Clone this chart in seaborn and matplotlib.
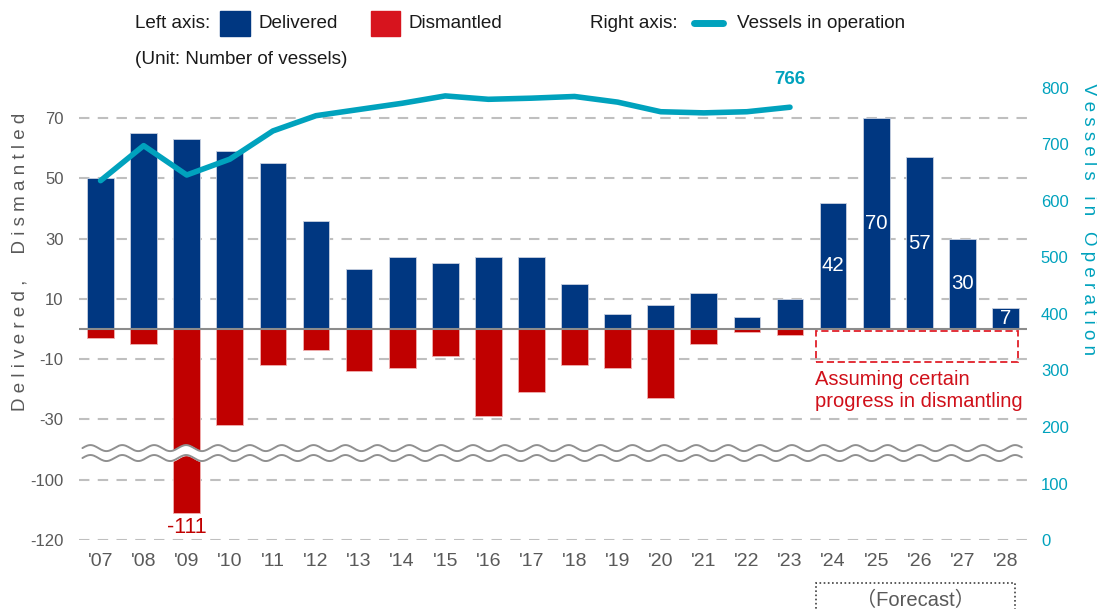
import numpy as np
import pandas as pd
import matplotlib
matplotlib.use("Agg")
import matplotlib.pyplot as plt
from matplotlib.patches import Rectangle
from matplotlib.lines import Line2D
import seaborn as sns

years = ["'07", "'08", "'09", "'10", "'11", "'12", "'13", "'14", "'15", "'16", "'17",
         "'18", "'19", "'20", "'21", "'22", "'23", "'24", "'25", "'26", "'27", "'28"]
delivered = [50, 65, 63, 59, 55, 36, 20, 24, 22, 24, 24, 15, 5, 8, 12, 4, 10, 42, 70, 57, 30, 7]
dismantled = [-3, -5, -111, -32, -12, -7, -14, -13, -9, -29, -21, -12, -13, -23, -5, -1, -2]
in_operation = [636, 698, 646, 674, 724, 751, 762, 773, 786, 780, 782, 785, 775, 758, 756, 758, 766]
forecast_labels = [42, 70, 57, 30, 7]
left_ticks = [70, 50, 30, 10, -10, -30, -100, -120]
right_ticks = [0, 100, 200, 300, 400, 500, 600, 700, 800]

BLUE = "#003781"
RED = "#C00000"
RED_LEG = "#D7141E"
TEAL = "#00A2BD"
GRAY = "#595959"
GRID = "#BFBFBF"
FONT = ["Liberation Sans", "Noto Sans CJK JP", "DejaVu Sans"]

# broken axis: values below the break are shifted up by 50
BREAK_SHIFT = 50


def to_disp(v):
    return v + BREAK_SHIFT if v < -45 else v


sns.set_theme(style="white")
plt.rcParams["font.family"] = FONT

W, H = 1097, 609
fig = plt.figure(figsize=(W / 100, H / 100), dpi=100)
ax = fig.add_axes([79 / W, 1 - 540 / H, (1027 - 79) / W, (540 - 88) / H])

df_del = pd.DataFrame({"year": years, "value": delivered})
df_dis = pd.DataFrame({"year": years[:len(dismantled)],
                       "value": [to_disp(v) for v in dismantled]})

sns.barplot(data=df_del, x="year", y="value", order=years, color=BLUE, width=0.62,
            saturation=1, edgecolor="#c8d0e0", linewidth=0.6, ax=ax, zorder=3)
sns.barplot(data=df_dis, x="year", y="value", order=years, color=RED, width=0.62,
            saturation=1, edgecolor="#f0b0b0", linewidth=0.6, ax=ax, zorder=3)

ax.set_xlim(-0.5, len(years) - 0.5)
ax.set_ylim(-70, 80)
ax.set_xlabel("")
ax.set_ylabel("")
ax.set_yticks([to_disp(t) for t in left_ticks])
ax.set_yticklabels([str(t) for t in left_ticks])
ax.tick_params(axis="y", length=0, pad=11, labelsize=12, labelcolor=GRAY)
ax.tick_params(axis="x", length=0, pad=9, labelsize=14, labelcolor=GRAY)
for s in ax.spines.values():
    s.set_visible(False)
for t in left_ticks:
    ax.axhline(to_disp(t), color=GRID, lw=1.5, ls=(0, (5, 4)), zorder=1)
ax.axhline(0, color="#8c8c8c", lw=1.5, zorder=4)

# bar value labels
n_hist = len(dismantled)
for i, v in enumerate(forecast_labels):
    ax.text(n_hist + i, v / 2, str(v), color="white", ha="center", va="center", fontsize=14.7, zorder=5)
i_min = int(np.argmin(dismantled))
ax.text(i_min, to_disp(dismantled[i_min]) - 1.5, str(dismantled[i_min]), color=RED,
        ha="center", va="top", fontsize=15.5, zorder=5)

# break marks
xs = np.linspace(-0.42, 21.38, 800)
wave = 1.0 * np.sin(2 * np.pi * (xs + 0.42) / 0.74)
y_top, y_bot = -39.5, -42.8
ax.fill_between(xs, y_top + wave, y_bot + wave, color="white", zorder=6)
ax.plot(xs, y_top + wave, color="#909090", lw=1.4, zorder=7)
ax.plot(xs, y_bot + wave, color="#909090", lw=1.4, zorder=7)

# dismantling assumption box
ax.add_patch(Rectangle((16.6, -11), 21.3 - 16.6, 10.4, fill=False, ec="#E0202A",
                       lw=1.3, ls=(0, (4, 2)), zorder=5))
ax.text(16.58, -13.5, "Assuming certain\nprogress in dismantling", color="#D0101A",
        ha="left", va="top", fontsize=14.5, linespacing=1.2, zorder=5)

# right axis: vessels in operation
ax2 = ax.twinx()
df_op = pd.DataFrame({"pos": np.arange(len(in_operation)), "value": in_operation})
sns.lineplot(data=df_op, x="pos", y="value", color=TEAL, lw=4, ax=ax2, zorder=8)
ax2.lines[0].set_solid_capstyle("round")
ax2.set_ylim(0, 800)
ax2.set_xlim(-0.5, len(years) - 0.5)
ax2.set_yticks(right_ticks)
ax2.set_ylabel("")
ax2.tick_params(axis="y", length=0, pad=10, labelsize=12, labelcolor=TEAL)
for s in ax2.spines.values():
    s.set_visible(False)
ax2.annotate(str(in_operation[-1]), (len(in_operation) - 1, in_operation[-1]),
             xytext=(0, 14), textcoords="offset points", ha="center", va="bottom",
             color=TEAL, fontsize=13.5, fontweight="bold", annotation_clip=False)

# axis titles (letter spaced)
fig.text(20 / W, 1 - 262 / H, " ".join("Delivered, Dismantled").replace(",  ", ",    "),
         rotation=90, ha="center", va="center", fontsize=13.5, color=GRAY)
fig.text(1088 / W, 1 - 219 / H, " ".join("Vessels in Operation"),
         rotation=-90, ha="center", va="center", fontsize=13.5, color=TEAL)


# legend
def px(x, y):
    return x / W, 1 - y / H


fig.text(*px(135, 23), "Left axis:", va="center", fontsize=13.6, color="#1a1a1a")
fig.add_artist(Rectangle(px(220, 36), 30 / W, 25 / H, transform=fig.transFigure, color=BLUE))
fig.text(*px(258, 23), "Delivered", va="center", fontsize=13.6, color="#1a1a1a")
fig.add_artist(Rectangle(px(371, 36), 29 / W, 25 / H, transform=fig.transFigure, color=RED_LEG))
fig.text(*px(409, 23), "Dismantled", va="center", fontsize=13.6, color="#1a1a1a")
fig.text(*px(590, 23), "Right axis:", va="center", fontsize=13.6, color="#1a1a1a")
fig.add_artist(Line2D([694 / W, 723 / W], [1 - 23 / H] * 2, transform=fig.transFigure,
                      color=TEAL, lw=5, solid_capstyle="round"))
fig.text(*px(737, 23), "Vessels in operation", va="center", fontsize=13.6, color="#1a1a1a")
fig.text(*px(135, 60), "(Unit: Number of vessels)", va="center", fontsize=13.6, color="#1a1a1a")

# forecast box
fig.add_artist(Rectangle(px(816, 612), 199 / W, 29 / H, transform=fig.transFigure,
                         fill=False, ec="#404040", lw=1.2, ls=(0, (1, 1.5))))
fig.text(*px(915, 600), "（Forecast）", ha="center", va="center", fontsize=14.5, color=GRAY)

fig.savefig("out.png", dpi=100)
